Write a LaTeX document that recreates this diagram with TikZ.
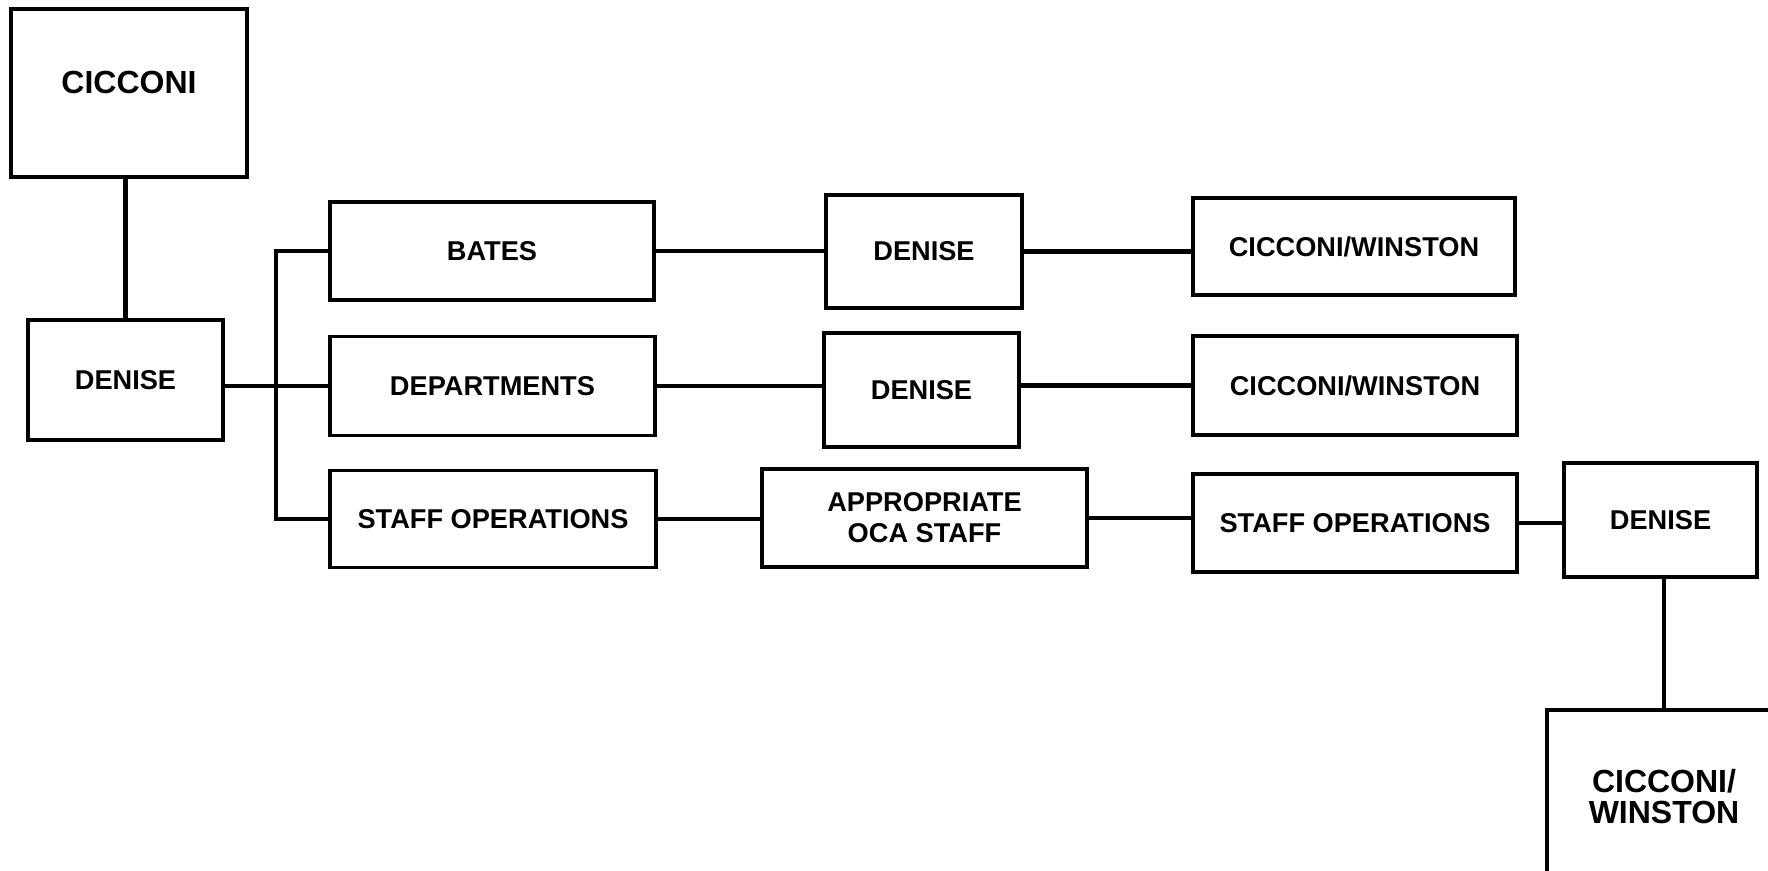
\documentclass[tikz,border=0pt]{standalone}
\usepackage{fontspec}
\setmainfont{Liberation Sans}
\begin{document}
\begin{tikzpicture}[x=0.5pt,y=-0.5pt,
  box/.style={draw, line width=1.6pt, inner sep=0pt, align=center,
    font=\bfseries\fontsize{13.6}{15.5}\selectfont},
  bigtext/.style={font=\bfseries\fontsize{16}{15.5}\selectfont, align=center},
  link/.style={line width=2.4pt}]
\useasboundingbox (0,0) rectangle (1768,871);
\clip (0,0) rectangle (1768,871);
% nodes
\node[box, minimum width=118pt, minimum height=84pt,
  label={[bigtext, yshift=5.5pt]center:CICCONI}] (cic) at (129,93) {};
\node[box, minimum width=97.5pt, minimum height=60pt] (den1) at (125.5,380) {DENISE};
\node[box, minimum width=162pt, minimum height=49pt] (bates) at (492,251) {BATES};
\node[box, minimum width=162.5pt, minimum height=49.5pt] (dept) at (492.5,386) {DEPARTMENTS};
\node[box, minimum width=163pt, minimum height=48.5pt] (so1) at (493,519) {STAFF OPERATIONS};
\node[box, minimum width=98pt, minimum height=56.5pt] (den2) at (924,251.5) {DENISE};
\node[box, minimum width=97.5pt, minimum height=57pt] (den3) at (921.5,390) {DENISE};
\node[box, minimum width=162.5pt, minimum height=49pt] (appr) at (924.5,518) {APPROPRIATE\\OCA STAFF};
\node[box, minimum width=161pt, minimum height=48.5pt] (cw1) at (1354,246.5) {CICCONI/WINSTON};
\node[box, minimum width=162pt, minimum height=49.5pt] (cw2) at (1355,385.5) {CICCONI/WINSTON};
\node[box, minimum width=162pt, minimum height=49pt] (so2) at (1355,523) {STAFF OPERATIONS};
\node[box, minimum width=96.5pt, minimum height=57pt] (den4) at (1660.5,520) {DENISE};
\node[box, minimum width=117pt, minimum height=95pt,
  label={[bigtext, yshift=4pt]center:CICCONI/\\WINSTON}] (cw3) at (1664,805) {};
\coordinate (bus) at (276,0);
% connectors
\draw[link] (den1.north |- cic.south) -- (den1.north);
\draw[link] (den1.east |- dept.west) -- (dept.west);
\draw[link] (bates.west) -- (bates.west -| bus) -- (so1.west -| bus) -- (so1.west);
\draw[link] (bates.east) -- (bates.east -| den2.west);
\draw[link] (den2.east) -- (den2.east -| cw1.west);
\draw[link] (dept.east) -- (dept.east -| den3.west);
\draw[link] (cw2.west -| den3.east) -- (cw2.west);
\draw[link] (so1.east) -- (so1.east -| appr.west);
\draw[link] (appr.east) -- (appr.east -| so2.west);
\draw[link] (so2.east) -- (so2.east -| den4.west);
\draw[link] (cw3.north |- den4.south) -- (cw3.north);
\end{tikzpicture}
\end{document}
